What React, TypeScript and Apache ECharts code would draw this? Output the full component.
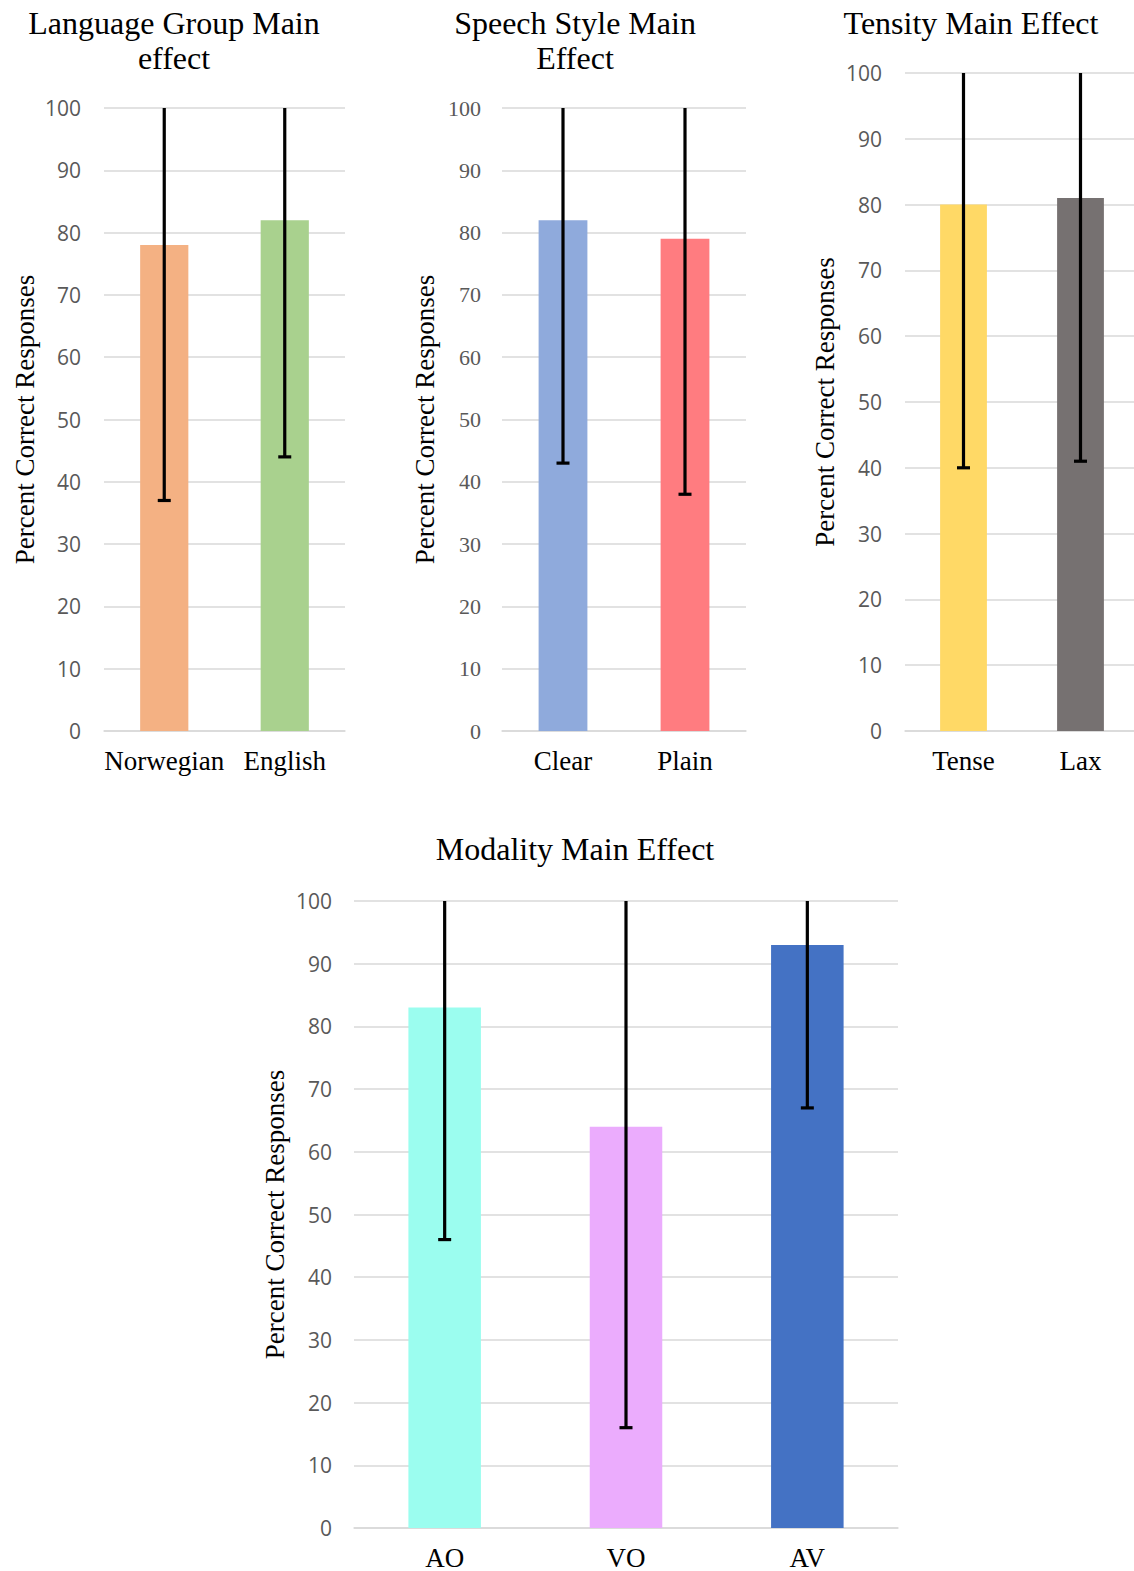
import React, { useEffect, useRef } from "react";
import * as echarts from "echarts";

// ---- Data ----
const lgCats = ["Norwegian", "English"];
const lgMeans = [78, 82];
const lgErr = [41, 38];
const lgColors = ["#F4B183", "#A9D18E"];

const ssCats = ["Clear", "Plain"];
const ssMeans = [82, 79];
const ssErr = [39, 41];
const ssColors = ["#8FAADC", "#FF7C80"];

const tCats = ["Tense", "Lax"];
const tMeans = [80, 81];
const tErr = [40, 40];
const tColors = ["#FFD966", "#767171"];

const mCats = ["AO", "VO", "AV"];
const mMeans = [83, 64, 93];
const mErr = [37, 48, 26];
const mColors = ["#9BFDEF", "#EBACFD", "#4472C4"];

const yMin = 0;
const yMax = 100;
const yInterval = 10;

const SERIF = "'Liberation Serif', 'Times New Roman', serif";
const SANS = "'Open Sans', 'Liberation Sans', sans-serif";

type Panel = {
  cats: string[];
  means: number[];
  err: number[];
  colors: string[];
  grid: { left: number; top: number; width: number; height: number };
  nameGap: number;
  labelMargin: number;
  tickFont: string;
  tickSize: number;
};

const panels: Panel[] = [
  {
    cats: lgCats, means: lgMeans, err: lgErr, colors: lgColors,
    grid: { left: 104, top: 108, width: 241, height: 623 },
    nameGap: 66, labelMargin: 23, tickFont: SANS, tickSize: 21,
  },
  {
    cats: ssCats, means: ssMeans, err: ssErr, colors: ssColors,
    grid: { left: 502, top: 108, width: 244, height: 623 },
    nameGap: 64, labelMargin: 21, tickFont: SERIF, tickSize: 22,
  },
  {
    cats: tCats, means: tMeans, err: tErr, colors: tColors,
    grid: { left: 905, top: 73, width: 234, height: 658 },
    nameGap: 67, labelMargin: 23, tickFont: SANS, tickSize: 21,
  },
  {
    cats: mCats, means: mMeans, err: mErr, colors: mColors,
    grid: { left: 354, top: 901, width: 544, height: 627 },
    nameGap: 66, labelMargin: 22, tickFont: SANS, tickSize: 21,
  },
];

const titles = [
  { text: "Language Group Main\neffect", x: 174, y: 5 },
  { text: "Speech Style Main\nEffect", x: 575, y: 5 },
  { text: "Tensity Main Effect", x: 971, y: 5 },
  { text: "Modality Main Effect", x: 575, y: 831 },
];

function errorRender(params: any, api: any) {
  const idx = api.value(0);
  const m = api.value(1);
  const e = api.value(2);
  const cs = params.coordSys;
  const low = api.coord([idx, m - e]);
  const high = api.coord([idx, m + e]);
  const x = low[0];
  const topY = Math.max(high[1], cs.y);
  const botY = Math.min(low[1], cs.y + cs.height);
  const style = { stroke: "#000", lineWidth: 3.2 };
  const children: any[] = [
    { type: "line", shape: { x1: x, y1: botY, x2: x, y2: topY }, style },
  ];
  if (m - e >= yMin) {
    children.push({ type: "line", shape: { x1: x - 6.5, y1: low[1], x2: x + 6.5, y2: low[1] }, style });
  }
  if (m + e <= yMax) {
    children.push({ type: "line", shape: { x1: x - 6.5, y1: high[1], x2: x + 6.5, y2: high[1] }, style });
  }
  return { type: "group", children };
}

function buildOption() {
  const grid: any[] = [];
  const xAxis: any[] = [];
  const yAxis: any[] = [];
  const series: any[] = [];
  panels.forEach((p, i) => {
    grid.push({ ...p.grid, containLabel: false });
    xAxis.push({
      type: "category",
      gridIndex: i,
      data: p.cats,
      axisLine: { show: true, lineStyle: { color: "#D9D9D9", width: 1.5 } },
      axisTick: { show: false },
      axisLabel: {
        color: "#000",
        fontFamily: SERIF,
        fontSize: 27,
        margin: 16,
        interval: 0,
      },
    });
    yAxis.push({
      type: "value",
      gridIndex: i,
      min: yMin,
      max: yMax,
      interval: yInterval,
      name: "Percent Correct Responses",
      nameLocation: "middle",
      nameGap: p.nameGap,
      nameTextStyle: { color: "#000", fontFamily: SERIF, fontSize: 27 },
      axisLine: { show: false },
      axisTick: { show: false },
      splitLine: { show: true, lineStyle: { color: "#D9D9D9", width: 1.5 } },
      axisLabel: {
        color: "#595959",
        fontFamily: p.tickFont,
        fontSize: p.tickSize,
        margin: p.labelMargin,
      },
    });
    series.push({
      type: "bar",
      xAxisIndex: i,
      yAxisIndex: i,
      barWidth: "40%",
      data: p.means.map((v, k) => ({ value: v, itemStyle: { color: p.colors[k] } })),
    });
    series.push({
      type: "custom",
      xAxisIndex: i,
      yAxisIndex: i,
      renderItem: errorRender,
      data: p.means.map((v, k) => [k, v, p.err[k]]),
      z: 5,
    });
  });
  return {
    animation: false,
    backgroundColor: "#fff",
    grid,
    xAxis,
    yAxis,
    series,
    graphic: titles.map((t) => ({
      type: "text",
      x: t.x,
      y: t.y,
      style: {
        text: t.text,
        fill: "#000",
        font: `32px ${SERIF}`,
        fontFamily: SERIF,
        fontSize: 32,
        lineHeight: 35,
        textAlign: "center",
        textVerticalAlign: "top",
        verticalAlign: "top",
        align: "center",
      },
    })),
  };
}

export default function App() {
  const ref = useRef<HTMLDivElement>(null);
  useEffect(() => {
    if (!ref.current) return;
    const chart = echarts.init(ref.current, undefined, { renderer: "svg" });
    chart.setOption(buildOption() as any);
    return () => chart.dispose();
  }, []);
  return (
    <div
      style={{
        position: "absolute",
        left: 0,
        top: 0,
        width: 1134,
        height: 1571,
        overflow: "hidden",
        background: "#fff",
      }}
    >
      <div ref={ref} style={{ width: 1140, height: 1571 }} />
    </div>
  );
}
